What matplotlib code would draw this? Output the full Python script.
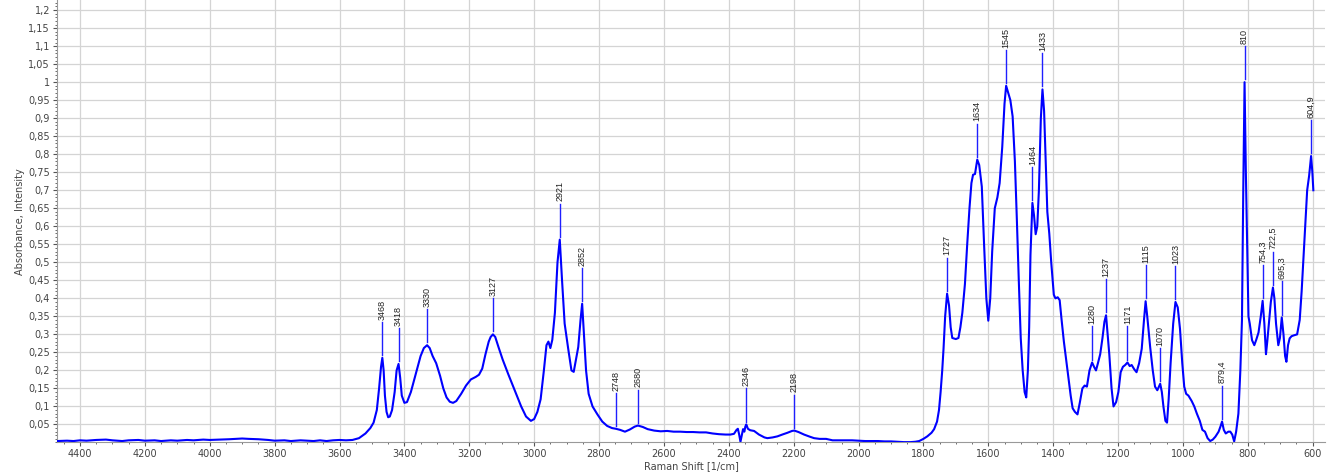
import matplotlib
matplotlib.use("Agg")
import matplotlib.pyplot as plt
import numpy as np
from matplotlib.ticker import MultipleLocator, FuncFormatter

# Raman spectrum (wavenumber in 1/cm, intensity)
wavenumber = [
    4470, 4440, 4420, 4400, 4380, 4350, 4320, 4300, 4270, 4250, 4220, 4200,
    4170, 4150, 4120, 4100, 4070, 4050, 4020, 4000, 3970, 3940, 3900, 3880,
    3850, 3820, 3800, 3770, 3750, 3720, 3700, 3680, 3660, 3640, 3620, 3600,
    3580, 3560, 3540, 3520, 3505, 3495, 3485, 3478, 3472, 3468, 3464, 3460,
    3455, 3450, 3445, 3438, 3430, 3424, 3418, 3413, 3408, 3400, 3392, 3380,
    3365, 3350, 3340, 3330, 3322, 3313, 3302, 3290, 3280, 3270, 3260, 3250,
    3240, 3225, 3210, 3195, 3180, 3170, 3160, 3150, 3140, 3134, 3127, 3120,
    3110, 3097, 3080, 3060, 3040, 3025, 3010, 3000, 2990, 2980, 2970, 2962,
    2956, 2950, 2944, 2936, 2928, 2921, 2914, 2906, 2895, 2885, 2878, 2872,
    2864, 2857, 2852, 2846, 2840, 2832, 2820, 2805, 2790, 2775, 2760, 2748,
    2735, 2720, 2705, 2690, 2680, 2665, 2650, 2630, 2610, 2590, 2570, 2550,
    2530, 2510, 2490, 2470, 2450, 2430, 2410, 2395, 2384, 2376, 2372, 2368,
    2364, 2360, 2356, 2352, 2349, 2346, 2341, 2334, 2322, 2307, 2290, 2281,
    2265, 2250, 2235, 2219, 2205, 2198, 2185, 2168, 2150, 2137, 2120, 2100,
    2080, 2060, 2040, 2020, 2000, 1980, 1960, 1940, 1920, 1900, 1880, 1860,
    1840, 1825, 1813, 1800, 1788, 1775, 1767, 1758, 1752, 1747, 1742, 1738,
    1733, 1727, 1721, 1716, 1711, 1700, 1692, 1686, 1680, 1672, 1665, 1658,
    1652, 1647, 1641, 1634, 1628, 1620, 1613, 1606, 1600, 1594, 1588, 1580,
    1572, 1565, 1557, 1550, 1545, 1540, 1532, 1525, 1518, 1512, 1506, 1500,
    1494, 1488, 1483, 1478, 1474, 1470, 1464, 1459, 1454, 1449, 1444, 1438,
    1433, 1428, 1423, 1418, 1412, 1406, 1398, 1393, 1386, 1380, 1374, 1367,
    1360, 1352, 1346, 1340, 1333, 1325, 1318, 1310, 1303, 1296, 1288, 1280,
    1274, 1268, 1262, 1255, 1248, 1242, 1237, 1232, 1227, 1220, 1214, 1206,
    1199, 1192, 1185, 1178, 1171, 1164, 1158, 1150, 1143, 1135, 1127, 1120,
    1115, 1110, 1101, 1093, 1086, 1079, 1070, 1065, 1060, 1054, 1049, 1044,
    1038, 1030, 1023, 1016, 1009, 1002, 996, 990, 983, 973, 965, 957,
    948, 940, 932, 924, 916, 908, 900, 890, 884, 879.4, 874, 868,
    860, 854, 848, 842, 836, 829, 823, 818, 814, 810, 806, 802,
    798, 794, 787, 780, 774, 767, 760, 754.3, 749, 744, 740, 735,
    729, 722.5, 718, 713, 706, 701, 695.3, 690, 685, 681, 676, 671,
    665, 659, 648, 640, 634, 628, 622, 617, 611, 604.9, 601, 598,
]
intensity = [
    0.004, 0.005, 0.004, 0.006, 0.005, 0.007, 0.008, 0.006, 0.004, 0.006, 0.007, 0.005,
    0.006, 0.004, 0.006, 0.005, 0.007, 0.006, 0.008, 0.007, 0.008, 0.009, 0.011, 0.010,
    0.009, 0.007, 0.005, 0.006, 0.004, 0.006, 0.005, 0.004, 0.006, 0.004, 0.006, 0.007,
    0.006, 0.007, 0.012, 0.025, 0.040, 0.055, 0.090, 0.150, 0.210, 0.235, 0.200, 0.130,
    0.085, 0.070, 0.072, 0.090, 0.140, 0.200, 0.218, 0.180, 0.130, 0.110, 0.112, 0.140,
    0.190, 0.240, 0.262, 0.270, 0.262, 0.240, 0.220, 0.185, 0.150, 0.125, 0.113, 0.110,
    0.115, 0.135, 0.158, 0.175, 0.182, 0.188, 0.205, 0.245, 0.280, 0.293, 0.300, 0.293,
    0.265, 0.230, 0.190, 0.145, 0.100, 0.072, 0.060, 0.065, 0.085, 0.120, 0.200, 0.270,
    0.280, 0.262, 0.285, 0.360, 0.500, 0.563, 0.450, 0.330, 0.260, 0.200, 0.196, 0.225,
    0.265, 0.340, 0.385, 0.290, 0.200, 0.135, 0.100, 0.078, 0.058, 0.046, 0.040, 0.038,
    0.035, 0.030, 0.036, 0.044, 0.047, 0.043, 0.037, 0.033, 0.031, 0.032, 0.030, 0.030,
    0.029, 0.029, 0.028, 0.028, 0.025, 0.023, 0.022, 0.022, 0.024, 0.035, 0.038, 0.022,
    0.002, 0.020, 0.037, 0.030, 0.044, 0.050, 0.038, 0.034, 0.032, 0.022, 0.014, 0.012,
    0.014, 0.017, 0.022, 0.027, 0.032, 0.033, 0.029, 0.022, 0.016, 0.012, 0.010, 0.010,
    0.006, 0.006, 0.006, 0.006, 0.005, 0.004, 0.004, 0.004, 0.003, 0.003, 0.002, 0.001,
    0.001, 0.002, 0.004, 0.010, 0.017, 0.027, 0.037, 0.058, 0.090, 0.140, 0.200, 0.260,
    0.350, 0.413, 0.380, 0.320, 0.290, 0.287, 0.290, 0.320, 0.360, 0.440, 0.550, 0.650,
    0.720, 0.743, 0.745, 0.785, 0.770, 0.710, 0.550, 0.400, 0.338, 0.400, 0.530, 0.650,
    0.680, 0.720, 0.820, 0.940, 0.990, 0.975, 0.950, 0.905, 0.780, 0.620, 0.450, 0.290,
    0.200, 0.140, 0.125, 0.200, 0.320, 0.520, 0.665, 0.630, 0.578, 0.600, 0.700, 0.900,
    0.980, 0.920, 0.780, 0.640, 0.580, 0.500, 0.410, 0.400, 0.403, 0.395, 0.340, 0.280,
    0.230, 0.175, 0.130, 0.095, 0.085, 0.078, 0.110, 0.150, 0.158, 0.155, 0.200, 0.222,
    0.210, 0.200, 0.220, 0.245, 0.290, 0.335, 0.353, 0.300, 0.245, 0.150, 0.100, 0.112,
    0.140, 0.195, 0.210, 0.215, 0.222, 0.212, 0.215, 0.203, 0.195, 0.220, 0.260, 0.340,
    0.392, 0.350, 0.265, 0.200, 0.155, 0.145, 0.163, 0.140, 0.099, 0.060, 0.055, 0.120,
    0.220, 0.330, 0.390, 0.375, 0.315, 0.220, 0.155, 0.135, 0.130, 0.115, 0.100, 0.080,
    0.060, 0.035, 0.030, 0.012, 0.004, 0.008, 0.016, 0.030, 0.045, 0.058, 0.035, 0.025,
    0.030, 0.030, 0.022, 0.003, 0.030, 0.080, 0.200, 0.340, 0.700, 1.000, 0.750, 0.550,
    0.350, 0.330, 0.284, 0.270, 0.285, 0.305, 0.350, 0.393, 0.330, 0.245, 0.280, 0.330,
    0.390, 0.430, 0.400, 0.330, 0.270, 0.290, 0.347, 0.300, 0.240, 0.224, 0.270, 0.289,
    0.295, 0.297, 0.300, 0.340, 0.420, 0.520, 0.620, 0.700, 0.740, 0.795, 0.750, 0.700,
]

# peak markers
peak_pos = [3468, 3418, 3330, 3127, 2921, 2852, 2748, 2680, 2346, 2198,
            1727, 1634, 1545, 1464, 1433, 1280, 1237, 1171, 1115, 1070,
            1023, 879.4, 810, 754.3, 722.5, 695.3, 604.9]
peak_labels = ["3468", "3418", "3330", "3127", "2921", "2852", "2748", "2680",
               "2346", "2198", "1727", "1634", "1545", "1464", "1433", "1280",
               "1237", "1171", "1115", "1070", "1023", "879,4", "810", "754,3",
               "722,5", "695,3", "604,9"]

wn = np.array(wavenumber)
y = np.array(intensity)

fig = plt.figure(figsize=(13.31, 4.74), dpi=100)
ax = fig.add_axes([0.0428, 0.0665, 0.9527, 0.9335])

ax.plot(wn, y, color="#0000ff", lw=1.5, zorder=3)

for pos, lab in zip(peak_pos, peak_labels):
    py = np.interp(pos, wn[::-1], y[::-1])
    ax.plot([pos, pos], [py + 0.008, py + 0.1], color="#1f1fff", lw=1.0, zorder=3)
    ax.text(pos, py + 0.106, lab, rotation=90, ha="center", va="bottom",
            fontsize=6.5, family="Liberation Sans", color="#222222")

ax.set_xlim(4471, 562)
ax.set_ylim(0, 1.228)

ax.xaxis.set_major_locator(MultipleLocator(200))
ax.xaxis.set_minor_locator(MultipleLocator(50))
ax.set_yticks(np.arange(0.05, 1.201, 0.05))
ax.yaxis.set_minor_locator(MultipleLocator(0.01))
ax.yaxis.set_major_formatter(FuncFormatter(lambda v, p: f"{v:.2f}".rstrip("0").rstrip(".").replace(".", ",")))

ax.grid(True, which="major", color="#d4d4d4", lw=0.9, zorder=0)
ax.tick_params(which="both", labelsize=7, colors="#555555", labelcolor="#444444")
ax.tick_params(which="major", length=3, pad=2)
ax.tick_params(which="minor", length=1.5)
for s in ["top", "right"]:
    ax.spines[s].set_visible(False)
for s in ["left", "bottom"]:
    ax.spines[s].set_color("#999999")

ax.set_xlabel("Raman Shift [1/cm]", fontsize=7, color="#444444", labelpad=1)
ax.set_ylabel("Absorbance, Intensity", fontsize=7, color="#444444", labelpad=2)

fig.savefig("out.png", dpi=100)
